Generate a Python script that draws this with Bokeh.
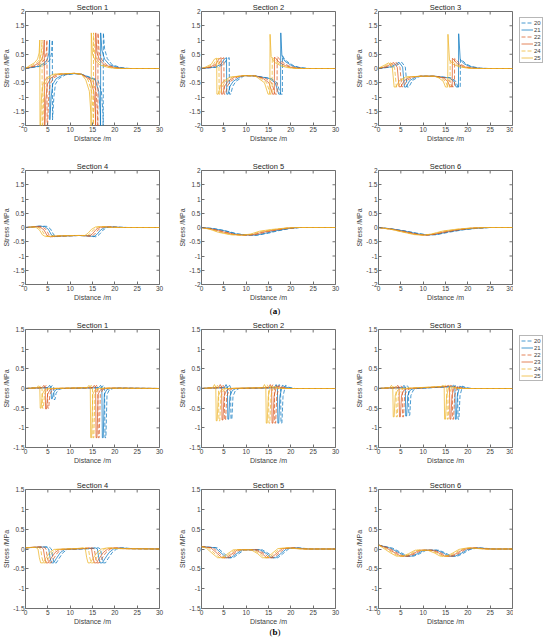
from bokeh.plotting import figure
from bokeh.models import Range1d, FixedTicker, NumeralTickFormatter, Legend, LegendItem, Div
from bokeh.layouts import row, column
from bokeh.embed import file_html
from bokeh.resources import INLINE
import math

SERIES = ["20", "21", "22", "23", "24", "25"]
COLORS = ["#0072BD", "#0072BD", "#D95319", "#D95319", "#EDB120", "#EDB120"]
DASHES = ["4 2", "solid", "4 2", "solid", "4 2", "solid"]
X_TICKS = [0, 5, 10, 15, 20, 25, 30]
A_TICKS = [-2, -1.5, -1, -0.5, 0, 0.5, 1, 1.5, 2]
B_TICKS = [-1.5, -1, -0.5, 0, 0.5, 1, 1.5]

# ---------------- (a) Section 1 ----------------
A1_X = [
    [0, 3.5, 4.8, 5.5, 5.85, 6.0, 6.05, 6.35, 6.7, 7.5, 9.0, 11, 12.5, 16.2, 17.0, 17.35, 17.4, 17.43, 17.7, 18.3, 19.4, 21.4, 23.4, 30],
    [0, 2.9, 4.2, 4.9, 5.25, 5.4, 5.45, 5.75, 6.1, 6.9, 8.4, 11, 12.5, 15.6, 16.4, 16.75, 16.8, 16.83, 17.1, 17.7, 18.8, 20.8, 22.8, 30],
    [0, 2.3, 3.6, 4.3, 4.65, 4.8, 4.85, 5.15, 5.5, 6.3, 7.8, 11, 12.5, 15.0, 15.8, 16.15, 16.2, 16.23, 16.5, 17.1, 18.2, 20.2, 22.2, 30],
    [0, 1.7, 3.0, 3.7, 4.05, 4.2, 4.25, 4.55, 4.9, 5.7, 7.2, 11, 12.5, 14.5, 15.3, 15.65, 15.7, 15.73, 16.0, 16.6, 17.7, 19.7, 21.7, 30],
    [0, 1.2, 2.5, 3.2, 3.55, 3.7, 3.75, 4.05, 4.4, 5.2, 6.7, 11, 12.5, 14.0, 14.8, 15.15, 15.2, 15.23, 15.5, 16.1, 17.2, 19.2, 21.2, 30],
    [0, 0.7, 2.0, 2.7, 3.05, 3.2, 3.25, 3.55, 3.9, 4.7, 6.2, 11, 12.5, 13.5, 14.3, 14.65, 14.7, 14.73, 15.0, 15.6, 16.7, 18.7, 20.7, 30],
]
A1_Y = [
    [0, 0.08, 0.18, 0.32, 0.55, 1.0, -1.8, -1.0, -0.55, -0.35, -0.22, -0.18, -0.2, -0.4, -0.8, -1.6, -2.5, 1.25, 0.7, 0.35, 0.13, 0.03, 0, 0],
    [0, 0.08, 0.18, 0.32, 0.55, 1.0, -1.8, -1.0, -0.55, -0.35, -0.22, -0.18, -0.2, -0.4, -0.8, -1.6, -2.5, 1.25, 0.65, 0.33, 0.13, 0.03, 0, 0],
    [0, 0.08, 0.2, 0.33, 0.55, 1.0, -2.5, -1.1, -0.55, -0.33, -0.2, -0.17, -0.2, -0.4, -0.8, -1.6, -2.5, 1.25, 0.55, 0.3, 0.12, 0.03, 0, 0],
    [0, 0.08, 0.2, 0.33, 0.55, 1.0, -2.5, -1.1, -0.55, -0.33, -0.2, -0.17, -0.2, -0.4, -0.8, -1.6, -2.5, 1.25, 0.55, 0.3, 0.12, 0.03, 0, 0],
    [0, 0.08, 0.2, 0.33, 0.55, 1.0, -2.5, -1.1, -0.55, -0.33, -0.2, -0.17, -0.2, -0.4, -0.8, -1.6, -2.5, 1.25, 0.5, 0.28, 0.12, 0.03, 0, 0],
    [0, 0.08, 0.2, 0.33, 0.55, 1.0, -2.5, -1.1, -0.55, -0.33, -0.2, -0.17, -0.2, -0.4, -0.8, -1.6, -2.5, 1.25, 0.5, 0.28, 0.12, 0.03, 0, 0],
]

# ---------------- (a) Section 2 ----------------
A2_X = [
    [0, 3.7, 5.0, 5.7, 6.2, 6.25, 6.55, 7.0, 7.7, 9.2, 9.5, 12, 15.6, 16.9, 17.7, 18.1, 18.15, 18.4, 19.1, 20.6, 22.1, 24.1, 30],
    [0, 3.1, 4.4, 5.1, 5.6, 5.65, 5.95, 6.4, 7.1, 8.6, 9.5, 12, 15.2, 16.5, 17.3, 17.7, 17.75, 18.0, 18.7, 20.2, 21.7, 23.7, 30],
    [0, 2.5, 3.8, 4.5, 5.0, 5.05, 5.35, 5.8, 6.5, 8.0, 9.5, 12, 14.4, 15.7, 16.5, 16.9, 16.95, 17.2, 17.9, 19.4, 20.9, 22.9, 30],
    [0, 1.9, 3.2, 3.9, 4.4, 4.45, 4.75, 5.2, 5.9, 7.4, 9.5, 12, 13.8, 15.1, 15.9, 16.3, 16.35, 16.6, 17.3, 18.8, 20.3, 22.3, 30],
    [0, 1.4, 2.7, 3.4, 3.9, 3.95, 4.25, 4.7, 5.4, 6.9, 9.5, 12, 13.3, 14.6, 15.4, 15.8, 15.85, 16.1, 16.8, 18.3, 19.8, 21.8, 30],
    [0, 0.9, 2.2, 2.9, 3.4, 3.45, 3.75, 4.2, 4.9, 6.4, 9.5, 12, 12.8, 14.1, 14.9, 15.3, 15.35, 15.6, 16.3, 17.8, 19.3, 21.3, 30],
]
A2_Y = [
    [0, 0.05, 0.15, 0.33, 0.38, -0.9, -0.9, -0.62, -0.45, -0.3, -0.25, -0.26, -0.35, -0.5, -0.9, -0.9, 0.45, 0.38, 0.25, 0.1, 0.03, 0, 0],
    [0, 0.05, 0.15, 0.33, 0.38, -0.9, -0.9, -0.62, -0.45, -0.3, -0.25, -0.26, -0.35, -0.5, -0.9, -0.9, 1.25, 0.45, 0.25, 0.1, 0.03, 0, 0],
    [0, 0.05, 0.15, 0.33, 0.38, -0.9, -0.9, -0.62, -0.45, -0.3, -0.25, -0.26, -0.35, -0.5, -0.9, -0.9, 0.42, 0.38, 0.24, 0.1, 0.03, 0, 0],
    [0, 0.05, 0.15, 0.33, 0.38, -0.9, -0.9, -0.62, -0.45, -0.3, -0.25, -0.26, -0.35, -0.5, -0.9, -0.9, 0.4, 0.36, 0.23, 0.1, 0.03, 0, 0],
    [0, 0.05, 0.15, 0.33, 0.36, -0.9, -0.9, -0.62, -0.45, -0.3, -0.25, -0.26, -0.35, -0.5, -0.9, -0.9, 0.4, 0.35, 0.22, 0.09, 0.03, 0, 0],
    [0, 0.05, 0.15, 0.33, 0.36, -0.9, -0.9, -0.62, -0.45, -0.3, -0.25, -0.26, -0.35, -0.5, -0.9, -0.9, 1.2, 0.42, 0.22, 0.09, 0.03, 0, 0],
]

# ---------------- (a) Section 3 ----------------
A3_X = [
    [0, 3.4, 4.4, 5.2, 6.0, 6.4, 6.8, 7.6, 8.9, 9.5, 12.5, 16.3, 17.3, 17.8, 18.3, 18.35, 18.7, 19.5, 20.8, 22.8, 24.8, 30],
    [0, 2.8, 3.8, 4.6, 5.4, 5.8, 6.2, 7.0, 8.3, 9.5, 12.5, 15.9, 16.9, 17.4, 17.9, 17.95, 18.3, 19.1, 20.4, 22.4, 24.4, 30],
    [0, 2.2, 3.2, 4.0, 4.8, 5.2, 5.6, 6.4, 7.7, 9.5, 12.5, 15.0, 16.0, 16.5, 17.0, 17.05, 17.4, 18.2, 19.5, 21.5, 23.5, 30],
    [0, 1.6, 2.6, 3.4, 4.2, 4.6, 5.0, 5.8, 7.1, 9.5, 12.5, 14.5, 15.5, 16.0, 16.5, 16.55, 16.9, 17.7, 19.0, 21.0, 23.0, 30],
    [0, 1.0, 2.0, 2.8, 3.6, 4.0, 4.4, 5.2, 6.5, 9.5, 12.5, 14.0, 15.0, 15.5, 16.0, 16.05, 16.4, 17.2, 18.5, 20.5, 22.5, 30],
    [0, 0.5, 1.5, 2.3, 3.1, 3.5, 3.9, 4.7, 6.0, 9.5, 12.5, 13.5, 14.5, 15.0, 15.5, 15.55, 15.9, 16.7, 18.0, 20.0, 22.0, 30],
]
A3_Y = [
    [0, 0.06, 0.14, 0.22, 0.05, -0.65, -0.65, -0.42, -0.3, -0.27, -0.27, -0.33, -0.45, -0.65, -0.65, 0.32, 0.3, 0.17, 0.07, 0.01, 0, 0],
    [0, 0.06, 0.14, 0.22, 0.05, -0.65, -0.65, -0.42, -0.3, -0.27, -0.27, -0.33, -0.45, -0.65, -0.65, 1.22, 0.32, 0.17, 0.07, 0.01, 0, 0],
    [0, 0.06, 0.14, 0.21, 0.04, -0.64, -0.64, -0.42, -0.3, -0.27, -0.27, -0.33, -0.45, -0.64, -0.64, 0.35, 0.3, 0.16, 0.06, 0.01, 0, 0],
    [0, 0.06, 0.14, 0.21, 0.04, -0.64, -0.64, -0.42, -0.3, -0.27, -0.27, -0.33, -0.45, -0.64, -0.64, 0.36, 0.3, 0.16, 0.06, 0.01, 0, 0],
    [0, 0.05, 0.13, 0.2, 0.03, -0.65, -0.65, -0.42, -0.3, -0.27, -0.27, -0.33, -0.45, -0.65, -0.65, 0.3, 0.28, 0.15, 0.06, 0.01, 0, 0],
    [0, 0.05, 0.13, 0.2, 0.03, -0.65, -0.65, -0.42, -0.3, -0.27, -0.27, -0.33, -0.45, -0.65, -0.65, 1.2, 0.3, 0.15, 0.06, 0.01, 0, 0],
]

# ---------------- (a) Section 4 ----------------
A4_X = [
    [0, 2, 3.5, 4.8, 5.6, 6.3, 7.0, 8.5, 12, 15.0, 15.8, 16.5, 17.3, 18.2, 19.5, 21, 23, 30],
    [0, 1.5, 3.0, 4.3, 5.1, 5.8, 6.5, 8.0, 12, 14.5, 15.3, 16.0, 16.8, 17.7, 19.0, 20.5, 22.5, 30],
    [0, 1.2, 2.5, 3.8, 4.6, 5.3, 6.0, 7.5, 12, 14.0, 14.8, 15.5, 16.3, 17.2, 18.5, 20, 22, 30],
    [0, 1.0, 2.0, 3.3, 4.1, 4.8, 5.5, 7.0, 12, 13.5, 14.3, 15.0, 15.8, 16.7, 18, 19.5, 21.5, 30],
    [0, 0.8, 1.5, 2.8, 3.6, 4.3, 5.0, 6.5, 11.5, 13.0, 13.8, 14.5, 15.3, 16.2, 17.5, 19, 21, 30],
    [0, 0.5, 1.0, 2.3, 3.1, 3.8, 4.5, 6.0, 11.0, 12.5, 13.3, 14.0, 14.8, 15.7, 17.0, 18.5, 20.5, 30],
]
A4_Y = [
    [0, 0.02, 0.05, 0.04, -0.05, -0.25, -0.32, -0.3, -0.28, -0.3, -0.33, -0.25, -0.1, 0.0, 0.02, 0.01, 0, 0],
    [0, 0.02, 0.05, 0.03, -0.06, -0.26, -0.32, -0.3, -0.28, -0.3, -0.32, -0.24, -0.09, 0.0, 0.02, 0.01, 0, 0],
    [0, 0.01, 0.04, 0.02, -0.07, -0.27, -0.32, -0.3, -0.28, -0.29, -0.31, -0.23, -0.08, 0.01, 0.02, 0.01, 0, 0],
    [0, 0.01, 0.03, 0.01, -0.08, -0.27, -0.33, -0.3, -0.28, -0.29, -0.3, -0.22, -0.07, 0.01, 0.03, 0.01, 0, 0],
    [0, 0.0, 0.02, 0.01, -0.08, -0.26, -0.32, -0.3, -0.28, -0.28, -0.29, -0.21, -0.07, 0.02, 0.03, 0.01, 0, 0],
    [0, 0.0, 0.02, 0.01, -0.08, -0.26, -0.32, -0.3, -0.28, -0.28, -0.28, -0.2, -0.06, 0.02, 0.03, 0.01, 0, 0],
]

# ---------------- (a) Section 5 ----------------
A5_X = [
    [0, 2.5, 5, 8, 10, 12.5, 15, 17, 20, 22, 30],
    [0, 2.5, 5, 7.8, 9.8, 12.2, 14.6, 16.8, 19.8, 22, 30],
    [0, 2.3, 4.7, 7.4, 9.6, 11.8, 14.2, 16.5, 19.5, 21.8, 30],
    [0, 2.1, 4.4, 7.0, 9.4, 11.5, 13.8, 16.2, 19.2, 21.6, 30],
    [0, 2.0, 4.1, 6.7, 9.2, 11.2, 13.4, 15.9, 19.0, 21.4, 30],
    [0, 1.8, 3.8, 6.4, 9.0, 11.0, 13.0, 15.6, 18.8, 21.2, 30],
]
A5_Y = [
    [0, -0.03, -0.1, -0.22, -0.26, -0.27, -0.2, -0.12, -0.03, 0, 0],
    [0, -0.04, -0.11, -0.23, -0.26, -0.27, -0.19, -0.11, -0.03, 0, 0],
    [0, -0.05, -0.13, -0.24, -0.27, -0.26, -0.17, -0.1, -0.03, 0, 0],
    [0, -0.05, -0.14, -0.24, -0.27, -0.25, -0.16, -0.09, -0.02, 0, 0],
    [0, -0.06, -0.16, -0.25, -0.27, -0.24, -0.14, -0.08, -0.02, 0, 0],
    [0, -0.06, -0.17, -0.25, -0.27, -0.23, -0.13, -0.07, -0.02, 0, 0],
]

# ---------------- (a) Section 6 ----------------
A6_X = [
    [0, 3, 6, 9, 11, 13, 16, 19, 22, 25, 30],
    [0, 3, 6, 8.8, 10.8, 12.8, 15.7, 18.7, 21.7, 24.8, 30],
    [0, 3, 6, 8.6, 10.6, 12.5, 15.4, 18.4, 21.4, 24.6, 30],
    [0, 3, 5.8, 8.4, 10.4, 12.3, 15.1, 18.1, 21.1, 24.4, 30],
    [0, 3, 5.6, 8.2, 10.2, 12.0, 14.8, 17.8, 20.8, 24.2, 30],
    [0, 3, 5.4, 8.0, 10.0, 11.8, 14.5, 17.5, 20.5, 24.0, 30],
]
A6_Y = [
    [0, -0.05, -0.12, -0.21, -0.26, -0.25, -0.16, -0.08, -0.03, 0, 0],
    [0, -0.05, -0.13, -0.22, -0.26, -0.25, -0.15, -0.08, -0.03, 0, 0],
    [0, -0.06, -0.14, -0.23, -0.27, -0.24, -0.15, -0.07, -0.02, 0, 0],
    [0, -0.06, -0.15, -0.24, -0.27, -0.24, -0.14, -0.07, -0.02, 0, 0],
    [0, -0.07, -0.16, -0.24, -0.27, -0.23, -0.13, -0.06, -0.02, 0, 0],
    [0, -0.07, -0.16, -0.25, -0.27, -0.23, -0.12, -0.06, -0.02, 0, 0],
]

# ---------------- (b) Section 1 ----------------
B1_X = [
    [0, 1.5, 5.6, 6.0, 6.3, 6.4, 6.6, 6.85, 7.4, 8.2, 17.0, 17.4, 17.7, 17.8, 18.0, 18.25, 18.8, 19.6, 21.0, 30],
    [0, 1.5, 5.0, 5.4, 5.7, 5.8, 6.0, 6.25, 6.8, 7.6, 16.4, 16.8, 17.1, 17.2, 17.4, 17.65, 18.2, 19.0, 20.4, 30],
    [0, 1.5, 4.2, 4.6, 4.9, 5.0, 5.2, 5.45, 6.0, 6.8, 15.5, 15.9, 16.2, 16.3, 16.5, 16.75, 17.3, 18.1, 19.5, 30],
    [0, 1.5, 3.7, 4.1, 4.4, 4.5, 4.7, 4.95, 5.5, 6.3, 15.0, 15.4, 15.7, 15.8, 16.0, 16.25, 16.8, 17.6, 19.0, 30],
    [0, 1.5, 3.0, 3.4, 3.7, 3.8, 4.0, 4.25, 4.8, 5.6, 14.3, 14.7, 15.0, 15.1, 15.3, 15.55, 16.1, 16.9, 18.3, 30],
    [0, 1.5, 2.5, 2.9, 3.2, 3.3, 3.5, 3.75, 4.3, 5.1, 13.8, 14.2, 14.5, 14.6, 14.8, 15.05, 15.6, 16.4, 17.8, 30],
]
B1_Y = [
    [0, 0.01, 0.02, 0.08, 0.03, -0.28, -0.28, -0.12, -0.03, 0, 0.02, 0.08, 0.03, -1.25, -1.25, -0.15, -0.03, 0, 0.01, 0],
    [0, 0.01, 0.02, 0.08, 0.03, -0.26, -0.26, -0.12, -0.03, 0, 0.02, 0.08, 0.03, -1.25, -1.25, -0.15, -0.03, 0, 0.01, 0],
    [0, 0.01, 0.02, 0.08, 0.03, -0.5, -0.5, -0.15, -0.03, 0, 0.02, 0.08, 0.03, -1.25, -1.25, -0.15, -0.03, 0, 0.01, 0],
    [0, 0.01, 0.02, 0.08, 0.03, -0.52, -0.52, -0.15, -0.03, 0, 0.02, 0.08, 0.03, -1.25, -1.25, -0.15, -0.03, 0, 0.01, 0],
    [0, 0.01, 0.02, 0.07, 0.03, -0.5, -0.5, -0.15, -0.03, 0, 0.02, 0.08, 0.03, -1.25, -1.25, -0.15, -0.03, 0, 0.01, 0],
    [0, 0.01, 0.02, 0.07, 0.03, -0.5, -0.5, -0.15, -0.03, 0, 0.02, 0.08, 0.03, -1.25, -1.25, -0.15, -0.03, 0, 0.01, 0],
]

# ---------------- (b) Section 2 ----------------
B2_X = [
    [0, 1.5, 5.8, 6.2, 6.5, 6.6, 6.8, 7.05, 7.6, 8.4, 17.0, 17.4, 17.7, 17.8, 18.0, 18.25, 18.8, 19.6, 21.0, 30],
    [0, 1.5, 5.1, 5.5, 5.8, 5.9, 6.1, 6.35, 6.9, 7.7, 16.3, 16.7, 17.0, 17.1, 17.3, 17.55, 18.1, 18.9, 20.3, 30],
    [0, 1.5, 4.4, 4.8, 5.1, 5.2, 5.4, 5.65, 6.2, 7.0, 15.6, 16.0, 16.3, 16.4, 16.6, 16.85, 17.4, 18.2, 19.6, 30],
    [0, 1.5, 3.8, 4.2, 4.5, 4.6, 4.8, 5.05, 5.6, 6.4, 15.0, 15.4, 15.7, 15.8, 16.0, 16.25, 16.8, 17.6, 19.0, 30],
    [0, 1.5, 3.1, 3.5, 3.8, 3.9, 4.1, 4.35, 4.9, 5.7, 14.3, 14.7, 15.0, 15.1, 15.3, 15.55, 16.1, 16.9, 18.3, 30],
    [0, 1.2, 2.5, 2.9, 3.2, 3.3, 3.5, 3.75, 4.3, 5.1, 13.7, 14.1, 14.4, 14.5, 14.7, 14.95, 15.5, 16.3, 17.7, 30],
]
B2_Y = [
    [0, 0.01, 0.02, 0.1, 0.03, -0.78, -0.78, -0.2, -0.05, 0, 0.02, 0.1, 0.03, -0.88, -0.88, -0.2, 0.08, 0.03, 0, 0],
    [0, 0.01, 0.02, 0.1, 0.03, -0.78, -0.78, -0.2, -0.05, 0, 0.02, 0.1, 0.03, -0.88, -0.88, -0.2, 0.08, 0.03, 0, 0],
    [0, 0.01, 0.02, 0.1, 0.03, -0.8, -0.8, -0.2, -0.05, 0, 0.02, 0.1, 0.03, -0.88, -0.88, -0.2, 0.07, 0.03, 0, 0],
    [0, 0.01, 0.02, 0.1, 0.03, -0.8, -0.8, -0.2, -0.05, 0, 0.02, 0.1, 0.03, -0.88, -0.88, -0.2, 0.07, 0.03, 0, 0],
    [0, 0.01, 0.02, 0.1, 0.03, -0.82, -0.82, -0.2, -0.05, 0, 0.02, 0.1, 0.03, -0.88, -0.88, -0.2, 0.06, 0.02, 0, 0],
    [0, 0.01, 0.02, 0.1, 0.03, -0.82, -0.82, -0.2, -0.05, 0, 0.02, 0.1, 0.03, -0.88, -0.88, -0.2, 0.06, 0.02, 0, 0],
]

# ---------------- (b) Section 3 ----------------
B3_X = [
    [0, 1.5, 6.0, 6.4, 6.7, 6.8, 7.0, 7.25, 7.8, 8.6, 17.0, 17.4, 17.7, 17.8, 18.0, 18.25, 18.8, 19.6, 21.0, 30],
    [0, 1.5, 5.3, 5.7, 6.0, 6.1, 6.3, 6.55, 7.1, 7.9, 16.4, 16.8, 17.1, 17.2, 17.4, 17.65, 18.2, 19.0, 20.4, 30],
    [0, 1.5, 4.6, 5.0, 5.3, 5.4, 5.6, 5.85, 6.4, 7.2, 15.8, 16.2, 16.5, 16.6, 16.8, 17.05, 17.6, 18.4, 19.8, 30],
    [0, 1.5, 3.9, 4.3, 4.6, 4.7, 4.9, 5.15, 5.7, 6.5, 15.2, 15.6, 15.9, 16.0, 16.2, 16.45, 17.0, 17.8, 19.2, 30],
    [0, 1.5, 3.2, 3.6, 3.9, 4.0, 4.2, 4.45, 5.0, 5.8, 14.6, 15.0, 15.3, 15.4, 15.6, 15.85, 16.4, 17.2, 18.6, 30],
    [0, 1.2, 2.5, 2.9, 3.2, 3.3, 3.5, 3.75, 4.3, 5.1, 14.0, 14.4, 14.7, 14.8, 15.0, 15.25, 15.8, 16.6, 18.0, 30],
]
B3_Y = [
    [0, 0.01, 0.02, 0.08, 0.03, -0.68, -0.68, -0.18, -0.04, 0, 0.05, 0.08, 0.06, -0.78, -0.78, -0.18, 0.06, 0.02, 0, 0],
    [0, 0.01, 0.02, 0.08, 0.03, -0.7, -0.7, -0.18, -0.04, 0, 0.05, 0.08, 0.06, -0.78, -0.78, -0.18, 0.06, 0.02, 0, 0],
    [0, 0.01, 0.02, 0.08, 0.03, -0.72, -0.72, -0.18, -0.04, 0, 0.05, 0.08, 0.06, -0.78, -0.78, -0.18, 0.05, 0.02, 0, 0],
    [0, 0.01, 0.02, 0.08, 0.03, -0.72, -0.72, -0.18, -0.04, 0, 0.05, 0.08, 0.06, -0.78, -0.78, -0.18, 0.05, 0.02, 0, 0],
    [0, 0.01, 0.02, 0.08, 0.03, -0.72, -0.72, -0.18, -0.04, 0, 0.05, 0.08, 0.06, -0.78, -0.78, -0.18, 0.05, 0.02, 0, 0],
    [0, 0.01, 0.02, 0.08, 0.03, -0.72, -0.72, -0.18, -0.04, 0, 0.05, 0.08, 0.06, -0.78, -0.78, -0.18, 0.05, 0.02, 0, 0],
]

# ---------------- (b) Section 4 ----------------
B4_X = [
    [0, 4.3, 5.3, 5.8, 6.1, 6.4, 6.9, 7.5, 8.4, 9.4, 14.8, 16.3, 16.8, 17.1, 17.4, 17.9, 18.5, 19.4, 20.4, 21.8, 23.8, 30],
    [0, 3.7, 4.7, 5.2, 5.5, 5.8, 6.3, 6.9, 7.8, 8.8, 14.1, 15.6, 16.1, 16.4, 16.7, 17.2, 17.8, 18.7, 19.7, 21.1, 23.1, 30],
    [0, 3.1, 4.1, 4.6, 4.9, 5.2, 5.7, 6.3, 7.2, 8.2, 13.4, 14.9, 15.4, 15.7, 16.0, 16.5, 17.1, 18.0, 19.0, 20.4, 22.4, 30],
    [0, 2.5, 3.5, 4.0, 4.3, 4.6, 5.1, 5.7, 6.6, 7.6, 12.8, 14.3, 14.8, 15.1, 15.4, 15.9, 16.5, 17.4, 18.4, 19.8, 21.8, 30],
    [0, 1.9, 2.9, 3.4, 3.7, 4.0, 4.5, 5.1, 6.0, 7.0, 12.1, 13.6, 14.1, 14.4, 14.7, 15.2, 15.8, 16.7, 17.7, 19.1, 21.1, 30],
    [0, 1.3, 2.3, 2.8, 3.1, 3.4, 3.9, 4.5, 5.4, 6.4, 11.4, 12.9, 13.4, 13.7, 14.0, 14.5, 15.1, 16.0, 17.0, 18.4, 20.4, 30],
]
B4_Y = [
    [0.03, 0.05, 0.05, 0.0, -0.22, -0.35, -0.35, -0.24, -0.09, -0.01, 0.01, 0.03, 0.0, -0.22, -0.35, -0.35, -0.24, -0.09, 0.0, 0.03, 0.01, 0],
    [0.03, 0.05, 0.05, 0.0, -0.22, -0.35, -0.35, -0.24, -0.09, -0.01, 0.01, 0.03, 0.0, -0.22, -0.35, -0.35, -0.24, -0.09, 0.0, 0.03, 0.01, 0],
    [0.03, 0.05, 0.05, 0.0, -0.22, -0.35, -0.35, -0.24, -0.09, -0.01, 0.01, 0.03, 0.0, -0.22, -0.35, -0.35, -0.24, -0.09, 0.0, 0.03, 0.01, 0],
    [0.03, 0.05, 0.05, 0.0, -0.22, -0.35, -0.35, -0.24, -0.09, -0.01, 0.01, 0.03, 0.0, -0.22, -0.35, -0.35, -0.24, -0.09, 0.0, 0.03, 0.01, 0],
    [0.03, 0.04, 0.04, 0.0, -0.22, -0.35, -0.35, -0.24, -0.09, -0.01, 0.01, 0.03, 0.0, -0.22, -0.35, -0.35, -0.24, -0.09, 0.0, 0.03, 0.01, 0],
    [0.03, 0.04, 0.04, 0.0, -0.22, -0.35, -0.35, -0.24, -0.09, -0.01, 0.01, 0.03, 0.0, -0.22, -0.35, -0.35, -0.24, -0.09, 0.0, 0.03, 0.01, 0],
]

# ---------------- (b) Section 5 ----------------
B5_X = [
    [0, 3.6, 5.1, 6.1, 7.1, 8.1, 9.6, 13.6, 15.1, 16.1, 17.1, 18.1, 19.6, 21.6, 24.6, 30],
    [0, 3.1, 4.6, 5.6, 6.6, 7.6, 9.1, 13.1, 14.6, 15.6, 16.6, 17.6, 19.1, 21.1, 24.1, 30],
    [0, 2.6, 4.1, 5.1, 6.1, 7.1, 8.6, 12.6, 14.1, 15.1, 16.1, 17.1, 18.6, 20.6, 23.6, 30],
    [0, 2.1, 3.6, 4.6, 5.6, 6.6, 8.1, 12.1, 13.6, 14.6, 15.6, 16.6, 18.1, 20.1, 23.1, 30],
    [0, 1.6, 3.1, 4.1, 5.1, 6.1, 7.6, 11.6, 13.1, 14.1, 15.1, 16.1, 17.6, 19.6, 22.6, 30],
    [0, 1.1, 2.6, 3.6, 4.6, 5.6, 7.1, 11.1, 12.6, 13.6, 14.6, 15.6, 17.1, 19.1, 22.1, 30],
]
B5_Y = [
    [0.06, 0.03, -0.12, -0.22, -0.22, -0.14, -0.02, -0.02, -0.12, -0.22, -0.22, -0.13, 0.01, 0.03, 0.0, 0],
    [0.06, 0.03, -0.12, -0.22, -0.22, -0.14, -0.02, -0.02, -0.12, -0.22, -0.22, -0.13, 0.01, 0.03, 0.0, 0],
    [0.06, 0.03, -0.12, -0.22, -0.22, -0.14, -0.02, -0.02, -0.12, -0.22, -0.22, -0.13, 0.01, 0.03, 0.0, 0],
    [0.06, 0.03, -0.12, -0.22, -0.22, -0.14, -0.02, -0.02, -0.12, -0.22, -0.22, -0.13, 0.01, 0.03, 0.0, 0],
    [0.06, 0.02, -0.13, -0.22, -0.22, -0.14, -0.02, -0.02, -0.12, -0.22, -0.22, -0.13, 0.01, 0.03, 0.0, 0],
    [0.06, 0.02, -0.13, -0.22, -0.22, -0.14, -0.02, -0.02, -0.12, -0.22, -0.22, -0.13, 0.01, 0.03, 0.0, 0],
]

# ---------------- (b) Section 6 ----------------
B6_X = [
    [0, 3.2, 5.2, 6.5, 7.9, 9.2, 10.7, 13.5, 15.0, 16.3, 17.7, 19.0, 20.5, 22.5, 26.0, 30],
    [0, 2.7, 4.7, 6.0, 7.4, 8.7, 10.2, 13.0, 14.5, 15.8, 17.2, 18.5, 20.0, 22.0, 25.5, 30],
    [0, 2.2, 4.2, 5.5, 6.9, 8.2, 9.7, 12.5, 14.0, 15.3, 16.7, 18.0, 19.5, 21.5, 25.0, 30],
    [0, 1.7, 3.7, 5.0, 6.4, 7.7, 9.2, 12.0, 13.5, 14.8, 16.2, 17.5, 19.0, 21.0, 24.5, 30],
    [0, 1.2, 3.2, 4.5, 5.9, 7.2, 8.7, 11.5, 13.0, 14.3, 15.7, 17.0, 18.5, 20.5, 24.0, 30],
    [0, 0.7, 2.7, 4.0, 5.4, 6.7, 8.2, 11.0, 12.5, 13.8, 15.2, 16.5, 18.0, 20.0, 23.5, 30],
]
B6_Y = [
    [0.1, 0.02, -0.1, -0.18, -0.18, -0.12, -0.03, -0.03, -0.1, -0.18, -0.18, -0.11, -0.01, 0.03, 0.0, 0],
    [0.1, 0.02, -0.1, -0.18, -0.18, -0.12, -0.03, -0.03, -0.1, -0.18, -0.18, -0.11, -0.01, 0.03, 0.0, 0],
    [0.1, 0.03, -0.1, -0.18, -0.18, -0.12, -0.03, -0.03, -0.1, -0.18, -0.18, -0.11, -0.01, 0.03, 0.0, 0],
    [0.1, 0.03, -0.1, -0.18, -0.18, -0.12, -0.03, -0.03, -0.1, -0.18, -0.18, -0.11, -0.01, 0.03, 0.0, 0],
    [0.1, 0.04, -0.1, -0.18, -0.18, -0.12, -0.03, -0.03, -0.1, -0.18, -0.18, -0.11, -0.01, 0.03, 0.0, 0],
    [0.1, 0.05, -0.1, -0.18, -0.18, -0.12, -0.03, -0.03, -0.1, -0.18, -0.18, -0.11, -0.01, 0.03, 0.0, 0],
]

TXT = "#404040"
BOX = "#707070"
FONT = "Liberation Sans"

# column geometry: (cell width, left border, right border)
COLS = [(174, 24, 15), (177, 27, 16), (162, 27, 1)]
LEG_W = 37


def panel(title, xs, ys, ylim, yticks, col, top, fh, bottom):
    w, bl, br = COLS[col]
    p = figure(width=w, height=top + fh + bottom,
               x_range=Range1d(0, 30), y_range=Range1d(*ylim),
               output_backend="svg", toolbar_location=None,
               min_border_left=bl, min_border_right=br,
               min_border_top=top, min_border_bottom=bottom,
               x_axis_label="Distance /m", y_axis_label="Stress /MPa")
    p.title.text = title
    p.title.align = "center"
    p.title.text_font = FONT
    p.title.text_font_size = "7.5px"
    p.title.text_font_style = "normal"
    p.title.text_color = "#262626"
    p.title.standoff = 0
    p.grid.visible = False
    p.outline_line_color = BOX
    p.outline_line_width = 1
    p.background_fill_color = "white"
    p.border_fill_color = "white"
    p.xaxis.ticker = FixedTicker(ticks=X_TICKS)
    p.yaxis.ticker = FixedTicker(ticks=yticks)
    p.yaxis.formatter = NumeralTickFormatter(format="0.[0]")
    for ax in (p.xaxis[0], p.yaxis[0]):
        ax.axis_line_color = None
        ax.major_tick_in = 3
        ax.major_tick_out = 0
        ax.major_tick_line_color = BOX
        ax.minor_tick_line_color = None
        ax.major_label_text_font = FONT
        ax.major_label_text_font_size = "6.5px"
        ax.major_label_text_color = TXT
        ax.major_label_standoff = 1
        ax.axis_label_text_font = FONT
        ax.axis_label_text_font_size = "7px"
        ax.axis_label_text_font_style = "normal"
        ax.axis_label_text_color = TXT
        ax.axis_label_standoff = 0
    # mirrored tick marks on the top and right edges of the box
    p.ray(x=X_TICKS, y=[ylim[1]] * len(X_TICKS), length=3, length_units="screen",
          angle=-math.pi / 2, line_color=BOX, line_width=1)
    p.ray(x=[30] * len(yticks), y=yticks, length=3, length_units="screen",
          angle=math.pi, line_color=BOX, line_width=1)
    for i in range(6):
        p.line(xs[i], ys[i], line_color=COLORS[i], line_width=0.9,
               line_dash=DASHES[i], line_alpha=0.8)
    return p


def legend_fig(height, top):
    p = figure(width=LEG_W, height=height, x_range=Range1d(0, 1), y_range=Range1d(0, 1),
               title=None, output_backend="svg", toolbar_location=None,
               min_border_left=0, min_border_right=0,
               min_border_top=top - 6, min_border_bottom=0,
               x_axis_location=None, y_axis_location=None)
    p.grid.visible = False
    p.outline_line_color = None
    p.background_fill_color = "white"
    p.border_fill_color = "white"
    items = []
    for i in range(6):
        # a single NaN point: nothing is drawn in the frame, only the legend sample
        r = p.line(x=[math.nan], y=[math.nan], line_color=COLORS[i], line_width=0.9,
                   line_dash=DASHES[i], line_alpha=0.8)
        items.append(LegendItem(label=SERIES[i], renderers=[r]))
    leg = Legend(items=items, location="top_left")
    leg.margin = 6
    leg.padding = 1
    leg.spacing = 0
    leg.glyph_width = 12
    leg.glyph_height = 7
    leg.label_height = 7
    leg.label_width = 6
    leg.label_standoff = 1
    leg.label_text_font = FONT
    leg.label_text_font_size = "6px"
    leg.label_text_color = TXT
    leg.border_line_color = BOX
    leg.border_line_width = 1
    leg.background_fill_color = "white"
    p.add_layout(leg, "center")
    return p


A_LIM = (-2, 2)
B_LIM = (-1.5, 1.5)

a1 = panel("Section 1", A1_X, A1_Y, A_LIM, A_TICKS, 0, 11, 114, 27)
a2 = panel("Section 2", A2_X, A2_Y, A_LIM, A_TICKS, 1, 11, 114, 27)
a3 = panel("Section 3", A3_X, A3_Y, A_LIM, A_TICKS, 2, 11, 114, 27)
la = legend_fig(152, 11)
a4 = panel("Section 4", A4_X, A4_Y, A_LIM, A_TICKS, 0, 18, 114, 20)
a5 = panel("Section 5", A5_X, A5_Y, A_LIM, A_TICKS, 1, 18, 114, 20)
a6 = panel("Section 6", A6_X, A6_Y, A_LIM, A_TICKS, 2, 18, 114, 20)
b1 = panel("Section 1", B1_X, B1_Y, B_LIM, B_TICKS, 0, 11, 118, 22)
b2 = panel("Section 2", B2_X, B2_Y, B_LIM, B_TICKS, 1, 11, 118, 22)
b3 = panel("Section 3", B3_X, B3_Y, B_LIM, B_TICKS, 2, 11, 118, 22)
lb = legend_fig(151, 11)
b4 = panel("Section 4", B4_X, B4_Y, B_LIM, B_TICKS, 0, 20, 120, 18)
b5 = panel("Section 5", B5_X, B5_Y, B_LIM, B_TICKS, 1, 20, 120, 18)
b6 = panel("Section 6", B6_X, B6_Y, B_LIM, B_TICKS, 2, 20, 120, 18)

LAB_STYLE = {"text-align": "center", "font-family": "Liberation Serif",
             "font-size": "9px", "line-height": "14px", "color": "#000000"}
lab_a = Div(text="(<b>a</b>)", width=550, height=14, margin=(0, 0, 0, 0), styles=LAB_STYLE)
lab_b = Div(text="(<b>b</b>)", width=550, height=10, margin=(0, 0, 0, 0),
            styles=dict(LAB_STYLE, **{"line-height": "10px"}))

page = column(row(a1, a2, a3, la), row(a4, a5, a6), lab_a,
              row(b1, b2, b3, lb), row(b4, b5, b6), lab_b)

open("out.html", "w").write(file_html(page, INLINE))
